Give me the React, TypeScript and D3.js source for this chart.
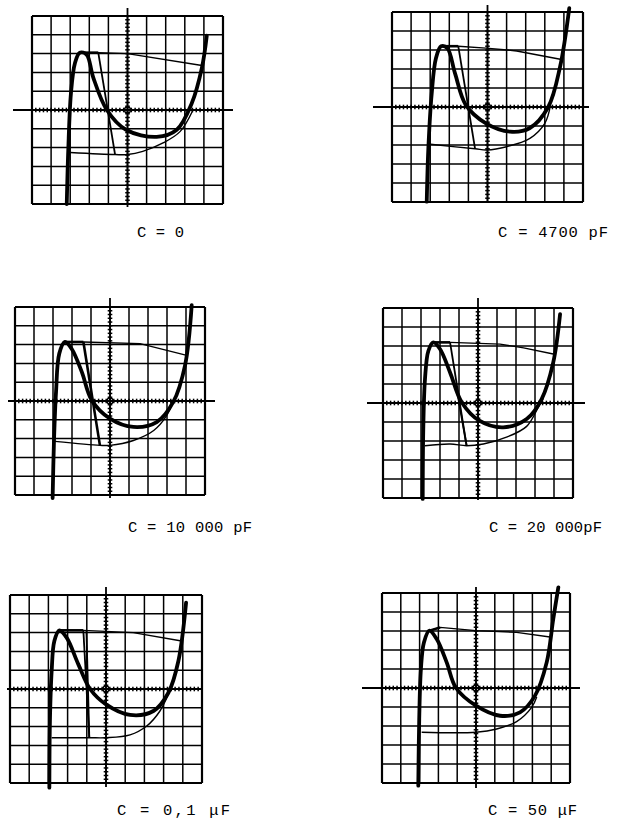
import React from 'react';
import * as d3 from 'd3';

type Pt = [number, number];

// curves, in grid divisions (x and y from -5 to 5)
const labels = ['C = 0', 'C = 4700 pF', 'C = 10 000 pF', 'C = 20 000pF', 'C = 0,1 \u03bcF', 'C = 50 \u03bcF'];

const thickC0: Pt[] = [[-3.18, -5.0], [-3.1, -2.1], [-2.96, 0.9], [-2.75, 2.5], [-2.5, 3.05], [-2.14, 2.95], [-1.8, 1.75], [-1.08, 0], [-0.08, -1.05], [1.53, -1.43], [2.58, -1.05], [3.36, 0.35], [3.9, 2.27], [4.15, 3.95]];
const topC0: Pt[] = [[-2.5, 3.05], [-1.53, 3.05], [0, 3.0], [3.9, 2.37]];
const steepC0: Pt[][] = [[[-1.53, 3.05], [-0.65, -2.37]]];
const bottomC0: Pt[] = [[-3.0, -2.26], [-0.65, -2.37], [0, -2.37], [0.8, -2.2], [1.86, -1.75], [2.75, -1.15], [3.43, 0]];

const thickC1: Pt[] = [[-3.18, -4.98], [-3.1, -2.26], [-2.92, 0.72], [-2.7, 2.56], [-2.43, 3.2], [-2.1, 3.09], [-1.7, 1.77], [-1.13, 0.1], [-0.08, -0.86], [1.18, -1.3], [2.2, -1.12], [3.18, 0], [3.8, 2.12], [4.28, 5.2]];
const topC1: Pt[] = [[-2.43, 3.2], [-1.53, 3.2], [-0.08, 3.1], [1.53, 2.95], [3.88, 2.5]];
const steepC1: Pt[][] = [[[-1.53, 3.2], [-0.65, -2.2]]];
const bottomC1: Pt[] = [[-3.1, -1.95], [-0.65, -2.2], [-0.03, -2.26], [1.0, -2.09], [2.22, -1.65], [3.0, -0.86], [3.3, 0.1]];

const thickC2: Pt[] = [[-3.02, -5.16], [-2.95, -2.18], [-2.84, 0.48], [-2.67, 2.52], [-2.37, 3.14], [-2.02, 2.78], [-1.49, 1.56], [-0.96, 0.04], [0, -0.94], [1.23, -1.38], [2.46, -1.12], [3.33, -0.05], [3.95, 1.9], [4.3, 5.1]];
const topC2: Pt[] = [[-2.37, 3.14], [-1.4, 3.14], [1.58, 3.05], [4.04, 2.43]];
const steepC2: Pt[][] = [[[-1.4, 3.14], [-0.53, -2.36]]];
const bottomC2: Pt[] = [[-2.9, -2.15], [-0.53, -2.36], [0, -2.36], [1.23, -2.1], [2.3, -1.57], [2.98, -0.78], [3.33, 0]];

const thickC3: Pt[] = [[-2.91, -5.05], [-2.88, -1.37], [-2.79, 1.26], [-2.61, 2.75], [-2.35, 3.19], [-2.0, 2.84], [-1.47, 1.61], [-0.86, 0.04], [0.07, -0.93], [1.33, -1.28], [2.56, -0.84], [3.35, 0.21], [3.96, 2.14], [4.32, 4.68]];
const topC3: Pt[] = [[-2.35, 3.19], [-1.47, 3.19], [1.16, 3.1], [2.4, 2.9], [3.96, 2.58]];
const steepC3: Pt[][] = [[[-1.47, 3.19], [-0.6, -2.25]], [[-1.15, 0.9], [-0.6, -2.25]]];
const bottomC3: Pt[] = [[-2.79, -2.25], [-1.47, -2.16], [-0.6, -2.25], [0.28, -2.16], [1.5, -1.8], [2.56, -1.23], [3.17, -0.23], [3.44, 0.26]];

const thickC4: Pt[] = [[-2.95, -5.25], [-2.92, -1.7], [-2.83, 0.96], [-2.69, 2.55], [-2.43, 3.12], [-2.05, 2.73], [-1.44, 1.31], [-0.83, 0], [0, -0.82], [1.25, -1.38], [2.47, -1.17], [3.25, -0.2], [3.77, 1.49], [4.17, 4.59]];
const topC4: Pt[] = [[-2.43, 3.12], [-1.18, 3.12], [1.42, 3.0], [3.94, 2.55]];
const steepC4: Pt[][] = [[[-1.18, 3.12], [-0.87, -2.59]], [[-1.02, 3.12], [-0.87, -2.59]]];
const bottomC4: Pt[] = [[-2.83, -2.59], [-0.87, -2.59], [0, -2.59], [1.25, -2.44], [2.12, -1.97], [2.81, -1.17], [3.25, -0.27]];

const thickC5: Pt[] = [[-3.07, -5.14], [-3.02, -1.63], [-2.93, 1.0], [-2.77, 2.4], [-2.48, 3.02], [-2.09, 2.58], [-1.56, 1.35], [-1.06, 0], [0, -0.93], [1.28, -1.46], [2.34, -1.28], [3.14, -0.4], [3.76, 1.35], [4.11, 3.63], [4.38, 5.3]];
const topC5: Pt[] = [[-2.48, 3.02], [-1.91, 3.19], [0, 3.02], [2.16, 2.93], [4.03, 2.67]];
const steepC5: Pt[][] = [];
const bottomC5: Pt[] = [[-2.89, -2.33], [0, -2.33], [1.1, -2.16], [2.16, -1.77], [2.96, -1.02], [3.23, -0.47]];

const thicks = [thickC0, thickC1, thickC2, thickC3, thickC4, thickC5];
const tops = [topC0, topC1, topC2, topC3, topC4, topC5];
const steeps = [steepC0, steepC1, steepC2, steepC3, steepC4, steepC5];
const bottoms = [bottomC0, bottomC1, bottomC2, bottomC3, bottomC4, bottomC5];

// where each screen sits on the page
const layout = [
  { x0: 32, x1: 223, y0: 16, y1: 204, hx: [13, 233], vy: [8, 207], lx: 137, lw: 47, ly: 237 },
  { x0: 392, x1: 583, y0: 12, y1: 202, hx: [373, 589], vy: [5, 203], lx: 498, lw: 110, ly: 237 },
  { x0: 15, x1: 205, y0: 307, y1: 495, hx: [8, 215], vy: [298, 498], lx: 128, lw: 124, ly: 532 },
  { x0: 383, x1: 573, y0: 308, y1: 498, hx: [367, 585], vy: [298, 500], lx: 489, lw: 113, ly: 532 },
  { x0: 10, x1: 202, y0: 595, y1: 783, hx: [7, 203], vy: [587, 787], lx: 117, lw: 113, ly: 815 },
  { x0: 382, x1: 570, y0: 593, y1: 783, hx: [362, 580], vy: [587, 788], lx: 488, lw: 89, ly: 815 },
];

const divisions = d3.range(-5, 6);
const minor = d3.range(-25, 26).map(d => d / 5);

const Scope = ({ i }: { i: number }) => {
  const L = layout[i];
  const x = d3.scaleLinear().domain([-5, 5]).range([L.x0, L.x1]);
  const y = d3.scaleLinear().domain([-5, 5]).range([L.y1, L.y0]);
  const smooth = d3.line<Pt>().x(d => x(d[0])).y(d => y(d[1])).curve(d3.curveCatmullRom.alpha(0.5));
  const straight = d3.line<Pt>().x(d => x(d[0])).y(d => y(d[1]));
  const cx = x(0);
  const cy = y(0);
  const hMinor = minor.filter(d => x(d) > L.hx[0] + 2 && x(d) < L.hx[1] - 2);
  const vMinor = minor.filter(d => y(d) > L.vy[0] + 2 && y(d) < L.vy[1] - 2);
  const top = tops[i];
  return (
    <g>
      {divisions.map(d => (
        <line key={'gx' + d} x1={x(d)} x2={x(d)} y1={L.y0} y2={L.y1}
          stroke="#000" strokeWidth={Math.abs(d) === 5 ? 2.2 : 1.5} />
      ))}
      {divisions.map(d => (
        <line key={'gy' + d} x1={L.x0} x2={L.x1} y1={y(d)} y2={y(d)}
          stroke="#000" strokeWidth={Math.abs(d) === 5 ? 2.2 : 1.5} />
      ))}
      <line x1={L.hx[0]} x2={L.hx[1]} y1={cy} y2={cy} stroke="#000" strokeWidth={1.8} />
      <line x1={cx} x2={cx} y1={L.vy[0]} y2={L.vy[1]} stroke="#000" strokeWidth={1.8} />
      {hMinor.map(d => (
        <line key={'hx' + d} x1={x(d)} x2={x(d)} y1={cy - 2.3} y2={cy + 2.3} stroke="#000" strokeWidth={1.5} />
      ))}
      {vMinor.map(d => (
        <line key={'vy' + d} x1={cx - 2.3} x2={cx + 2.3} y1={y(d)} y2={y(d)} stroke="#000" strokeWidth={1.5} />
      ))}
      <circle cx={cx} cy={cy} r={3} fill="none" stroke="#000" strokeWidth={1.3} />
      <path d={straight(top) ?? ''} fill="none" stroke="#000" strokeWidth={1.4} />
      <path d={straight(top.slice(0, 2)) ?? ''} fill="none" stroke="#000" strokeWidth={2.6} />
      {steeps[i].map((s, k) => (
        <path key={k} d={straight(s) ?? ''} fill="none" stroke="#000" strokeWidth={i === 2 ? 2.6 : 1.8} />
      ))}
      <path d={smooth(bottoms[i]) ?? ''} fill="none" stroke="#000" strokeWidth={1.4} />
      <path d={smooth(thicks[i]) ?? ''} fill="none" stroke="#000" strokeWidth={3.8} strokeLinecap="round" />
      <text x={L.lx} y={L.ly} textLength={L.lw} lengthAdjust="spacing"
        fontFamily="'Liberation Mono', monospace" fontSize={15.5} fill="#000">{labels[i]}</text>
    </g>
  );
};

export default function App() {
  return (
    <svg width={620} height={821} style={{ position: 'absolute', left: 0, top: 0, background: '#fff' }}>
      <rect width={620} height={821} fill="#fff" />
      {layout.map((_, i) => <Scope key={i} i={i} />)}
    </svg>
  );
}
